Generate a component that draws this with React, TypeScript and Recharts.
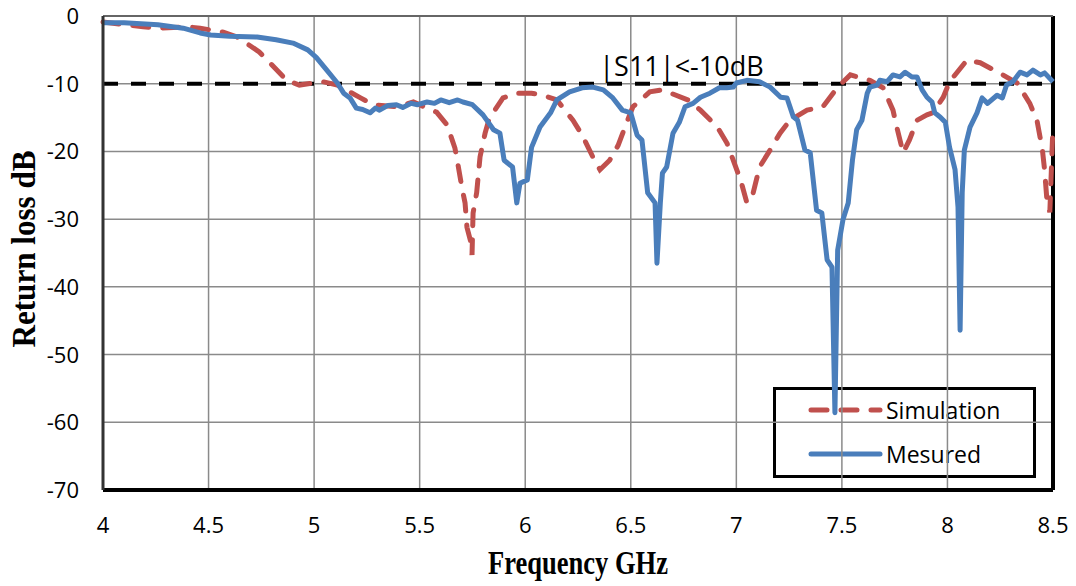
import React from "react"
import {
  LineChart,
  Line,
  XAxis,
  YAxis,
  CartesianGrid,
  ReferenceLine,
  ReferenceDot,
} from "recharts"

// Frequency (GHz) / return loss (dB)
const MEAS_F = [
  4.0, 4.1, 4.26, 4.38, 4.46, 4.51, 4.6, 4.73, 4.82, 4.9, 4.97, 5.01, 5.06, 5.11, 5.14, 5.17,
  5.2, 5.23, 5.265, 5.29, 5.31, 5.35, 5.39, 5.42, 5.46, 5.49, 5.535, 5.57, 5.6, 5.64, 5.68,
  5.705, 5.75, 5.8, 5.85, 5.88, 5.9, 5.94, 5.96, 5.975, 6.01, 6.03, 6.07, 6.12, 6.15, 6.21,
  6.27, 6.32, 6.37, 6.415, 6.46, 6.5, 6.53, 6.553, 6.58, 6.615, 6.624, 6.64, 6.65, 6.67, 6.7,
  6.73, 6.757, 6.795, 6.83, 6.875, 6.92, 6.955, 6.985, 7.0, 7.05, 7.11, 7.16, 7.21, 7.24, 7.27,
  7.29, 7.325, 7.35, 7.38, 7.405, 7.43, 7.453, 7.467, 7.48, 7.505, 7.53, 7.55, 7.57, 7.595,
  7.62, 7.633, 7.667, 7.68, 7.714, 7.742, 7.775, 7.8, 7.832, 7.856, 7.88, 7.903, 7.927, 7.94,
  7.965, 7.99, 8.01, 8.036, 8.05, 8.06, 8.07, 8.08, 8.107, 8.14, 8.164, 8.19, 8.235, 8.26,
  8.28, 8.31, 8.344, 8.377, 8.405, 8.44, 8.46, 8.5,
]
const MEAS_DB = [
  -1.0, -1.0, -1.3, -1.8, -2.5, -2.8, -3.0, -3.1, -3.5, -4.0, -5.0, -6.1, -8.0, -9.9, -11.4, -12.1,
  -13.6, -13.8, -14.3, -13.6, -13.9, -13.2, -13.1, -13.5, -12.9, -13.1, -12.7, -12.9, -12.4, -12.8, -12.4,
  -12.7, -13.1, -14.6, -16.8, -17.3, -21.3, -22.3, -27.6, -24.7, -24.2, -19.4, -16.4, -14.3, -12.4, -11.2,
  -10.6, -10.5, -10.9, -12.1, -13.9, -14.3, -17.6, -18.3, -26.1, -27.6, -36.5, -27.6, -23.2, -22.3, -17.3,
  -15.7, -13.4, -12.9, -12.0, -11.4, -10.6, -10.6, -10.5, -9.9, -9.5, -9.7, -10.5, -12.0, -12.1, -14.9,
  -15.4, -19.8, -20.2, -28.7, -29.1, -36.0, -37.1, -58.6, -34.6, -30.1, -27.6, -21.3, -16.8, -15.4,
  -11.4, -10.5, -10.2, -9.5, -9.7, -8.7, -9.0, -8.3, -9.0, -9.0, -10.9, -12.0, -12.7, -14.3,
  -14.9, -15.7, -19.4, -22.7, -28.2, -46.4, -26.0, -19.8, -16.4, -14.3, -12.1, -12.9, -11.7, -12.1,
  -10.2, -9.7, -8.3, -8.7, -8.0, -8.7, -8.4, -9.7,
]

const SIM_F = [
  4.0, 4.19, 4.26, 4.4, 4.46, 4.57, 4.635, 4.74, 4.79, 4.87, 4.93, 5.04, 5.11, 5.22, 5.28, 5.39,
  5.47, 5.58, 5.63, 5.667, 5.68, 5.7, 5.715, 5.724, 5.74, 5.748, 5.753, 5.77, 5.786, 5.81, 5.83,
  5.895, 5.96, 6.03, 6.084, 6.15, 6.226, 6.27, 6.32, 6.354, 6.4, 6.44, 6.48, 6.51, 6.59, 6.65,
  6.77, 6.83, 6.91, 6.956, 6.99, 7.02, 7.05, 7.08, 7.11, 7.16, 7.207, 7.254, 7.335, 7.41, 7.48,
  7.54, 7.633, 7.695, 7.742, 7.76, 7.79, 7.82, 7.856, 7.903, 7.93, 7.98, 8.01, 8.093, 8.155,
  8.263, 8.33, 8.39, 8.424, 8.45, 8.46, 8.47, 8.485, 8.5,
]
const SIM_DB = [
  -0.9, -1.6, -1.8, -1.6, -1.8, -2.4, -3.1, -5.3, -6.9, -9.5, -10.2, -9.7, -10.2, -12.1, -13.1, -13.4,
  -12.7, -14.2, -16.1, -19.5, -21.7, -25.3, -27.6, -31.2, -33.1, -35.3, -29.1, -26.1, -20.8, -17.3, -15.1,
  -12.1, -11.4, -11.4, -11.7, -12.4, -15.4, -17.6, -20.8, -22.7, -21.3, -19.1, -15.8, -13.4, -11.2, -10.9,
  -12.4, -13.9, -16.4, -18.8, -21.7, -24.2, -27.6, -26.1, -22.3, -19.8, -17.3, -15.4, -13.9, -13.4, -10.5,
  -8.7, -9.5, -10.6, -13.9, -16.4, -20.2, -18.3, -15.4, -14.6, -14.3, -12.0, -9.7, -6.5, -6.9,
  -8.7, -9.9, -12.9, -15.4, -19.8, -22.7, -26.7, -29.0, -16.0,
]

const X_TICKS = [4, 4.5, 5, 5.5, 6, 6.5, 7, 7.5, 8, 8.5]
const Y_TICKS = [0, -10, -20, -30, -40, -50, -60, -70]
const THRESHOLD = -10
const THRESHOLD_LABEL = "|S11|<-10dB"
const SERIES_NAMES = ["Simulation", "Mesured"]

const measured = MEAS_F.map((f, i) => ({ f, db: MEAS_DB[i] }))
const simulated = SIM_F.map((f, i) => ({ f, db: SIM_DB[i] }))

const BLUE = "#4a7ebb"
const RED = "#c0504d"
const GRID = "#8a8a8a"
const SIM_DASH = "16 14"
const SANS = "'Open Sans', sans-serif"
const SERIF = "'Liberation Serif', 'Times New Roman', serif"

const XTick = ({ x, y, payload }: any) => (
  <text x={x} y={y + 43} textAnchor="middle" fontFamily={SANS} fontSize={22} fill="#000">
    {payload.value}
  </text>
)

const YTick = ({ x, y, payload }: any) => (
  <text x={x - 24} y={y + 8} textAnchor="end" fontFamily={SANS} fontSize={22} fill="#000">
    {payload.value}
  </text>
)

const XTitle = ({ viewBox }: any) => (
  <text
    x={viewBox.x + viewBox.width / 2}
    y={viewBox.y + 84}
    textAnchor="middle"
    fontFamily={SERIF}
    fontWeight="bold"
    fontSize={33}
    textLength={180}
    lengthAdjust="spacingAndGlyphs"
  >
    Frequency GHz
  </text>
)

const YTitle = ({ viewBox }: any) => {
  const cx = viewBox.x + 35
  const cy = viewBox.y + viewBox.height / 2 - 4
  return (
    <text
      x={cx}
      y={cy}
      transform={`rotate(-90 ${cx} ${cy})`}
      textAnchor="middle"
      fontFamily={SERIF}
      fontWeight="bold"
      fontSize={33}
      textLength={197}
      lengthAdjust="spacingAndGlyphs"
    >
      Return loss dB
    </text>
  )
}

// legend box sits under the plot svg, so grid and traces show through it like in Excel
const LegendBox = () => (
  <div
    style={{
      position: "absolute",
      left: 773,
      top: 387,
      width: 263,
      height: 91,
      boxSizing: "border-box",
      border: "3px solid #000",
      background: "#fff",
      fontFamily: SANS,
      fontSize: 23,
      color: "#000",
    }}
  >
    {[
      { name: SERIES_NAMES[0], color: RED, dash: SIM_DASH },
      { name: SERIES_NAMES[1], color: BLUE, dash: undefined },
    ].map((item, i) => (
      <div
        key={item.name}
        style={{
          position: "absolute",
          left: 0,
          top: i === 0 ? 3 : 47,
          height: 34,
          display: "flex",
          alignItems: "center",
          whiteSpace: "nowrap",
        }}
      >
        <svg width={110} height={34} style={{ display: "block" }}>
          <line
            x1={35}
            x2={104}
            y1={17}
            y2={17}
            stroke={item.color}
            strokeWidth={5}
            strokeLinecap="round"
            strokeDasharray={item.dash}
          />
        </svg>
        <span>{item.name}</span>
      </div>
    ))}
  </div>
)

export default function App() {
  return (
    <div style={{ position: "absolute", left: 0, top: 0, width: 1076, height: 586, background: "#fff" }}>
      <LegendBox />
      <LineChart width={1076} height={586} margin={{ top: 16, right: 23, left: 0, bottom: 0 }}>
        <CartesianGrid stroke={GRID} strokeWidth={1.5} />
        <XAxis
          type="number"
          dataKey="f"
          domain={[4, 8.5]}
          ticks={X_TICKS}
          interval={0}
          height={96}
          tickLine={false}
          tickSize={0}
          tickMargin={0}
          tick={<XTick />}
          axisLine={{ stroke: "#000", strokeWidth: 4 }}
          label={<XTitle />}
        />
        <YAxis
          type="number"
          dataKey="db"
          domain={[-70, 0]}
          ticks={Y_TICKS}
          interval={0}
          width={103}
          tickLine={false}
          tickSize={0}
          tickMargin={0}
          tick={<YTick />}
          axisLine={{ stroke: "#333", strokeWidth: 3 }}
          label={<YTitle />}
        />
        <ReferenceLine x={8.5} stroke="#000" strokeWidth={4} />
        <ReferenceLine y={0} stroke="#666" strokeWidth={2} />
        <ReferenceLine y={THRESHOLD} stroke="#000" strokeWidth={4} strokeDasharray="15 13" />
        <ReferenceDot
          x={6.74}
          y={THRESHOLD}
          r={0}
          fill="none"
          stroke="none"
          label={{ value: THRESHOLD_LABEL, position: "top", offset: 8, fontFamily: SANS, fontSize: 27, fill: "#000" }}
        />
        <Line
          data={simulated}
          dataKey="db"
          name={SERIES_NAMES[0]}
          type="linear"
          stroke={RED}
          strokeWidth={5}
          strokeDasharray={SIM_DASH}
          strokeLinecap="round"
          dot={false}
          isAnimationActive={false}
        />
        <Line
          data={measured}
          dataKey="db"
          name={SERIES_NAMES[1]}
          type="linear"
          stroke={BLUE}
          strokeWidth={5}
          strokeLinejoin="round"
          dot={false}
          isAnimationActive={false}
        />
      </LineChart>
    </div>
  )
}
